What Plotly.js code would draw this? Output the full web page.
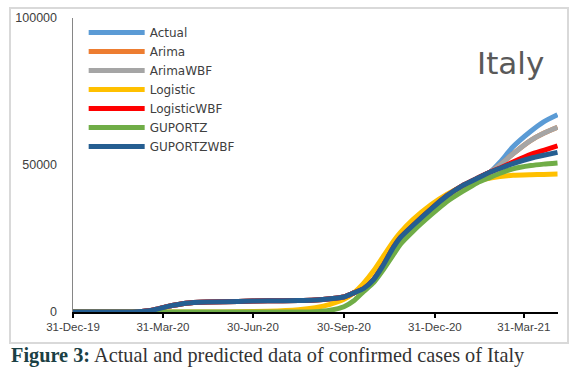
<!DOCTYPE html>
<html><head><meta charset="utf-8">
<script src="https://cdn.plot.ly/plotly-3.0.1.min.js"></script>
<style>html,body{margin:0;padding:0;background:#fff;}#chart{width:584px;height:376px;}</style>
</head><body><div id="chart"></div>
<script>
const dates = ["2019-12-31","2020-01-31","2020-02-20","2020-03-05","2020-03-20","2020-04-05","2020-04-23","2020-05-15","2020-06-15","2020-07-15","2020-08-15","2020-09-01","2020-09-16","2020-09-30","2020-10-10","2020-10-20","2020-10-30","2020-11-08","2020-11-19","2020-11-26","2020-12-09","2020-12-27","2021-01-12","2021-01-28","2021-02-12","2021-02-25","2021-03-07","2021-03-20","2021-04-07","2021-04-20","2021-05-04"];
const actual      = [0,0,0,100,600,1900,3000,3400,3600,3800,3900,4100,4500,5100,6500,8000,11000,15500,22000,25300,29500,35000,39500,43000,45500,47600,51000,56200,61500,64700,67100];
const arima       = [0,0,0,100,600,1900,3000,3400,3600,3800,3900,4100,4500,5100,6500,8000,11000,15500,22000,25300,29500,35000,39500,43000,45500,47600,50000,53800,58400,60800,62800];
const arimaWBF    = [0,0,0,100,600,1900,3000,3400,3600,3800,3900,4100,4500,5100,6500,8000,11000,15500,22000,25300,29500,35000,39500,43000,45500,47600,50000,53800,58400,60800,62800];
const logistic    = [0,0,0,0,0,0,0,0,50,250,800,1500,2600,4300,6500,9800,14000,18500,24000,27000,31500,36500,40000,42800,44600,45600,46100,46500,46700,46800,46900];
const logisticWBF = [0,0,0,100,600,1900,3000,3400,3600,3800,3900,4100,4500,5100,6500,8000,11000,15500,22000,25300,29500,35000,39500,43000,45500,47600,49000,51000,53600,55000,56500];
const guportz     = [0,0,0,0,0,0,0,0,0,0,0,100,600,1800,3800,7000,10000,14000,19500,23000,27500,33000,37500,41000,44000,45800,47200,48700,49800,50300,50700];
const guportzWBF  = [0,0,0,100,600,1900,3000,3400,3600,3800,3900,4100,4500,5100,6500,8000,11000,15500,22000,25300,29500,35000,39500,43000,45500,47600,48900,50500,52300,53300,54300];

const seriesNames = ["Actual","Arima","ArimaWBF","Logistic","LogisticWBF","GUPORTZ","GUPORTZWBF"];
const seriesData = [actual, arima, arimaWBF, logistic, logisticWBF, guportz, guportzWBF];
const seriesColors = ["#5B9BD5","#ED7D31","#A5A5A5","#FFC000","#FF0000","#70AD47","#255E91"];

const tickVals = ["2019-12-31","2020-03-31","2020-06-30","2020-09-30","2020-12-31","2021-03-31"];
const tickText = ["31-Dec-19","31-Mar-20","30-Jun-20","30-Sep-20","31-Dec-20","31-Mar-21"];

const traces = seriesNames.map((n,i)=>({
  x: dates, y: seriesData[i], name: n, type:'scatter', mode:'lines',
  line:{color: seriesColors[i], width:5, shape:'spline', smoothing:0.5},
  hoverinfo:'skip'
}));

const layout = {
  width:584, height:376,
  margin:{l:73, r:26, t:18, b:64},
  paper_bgcolor:'#fff', plot_bgcolor:'#fff',
  showlegend:true,
  legend:{x:0.022, y:1.0, xanchor:'left', yanchor:'top', bgcolor:'rgba(0,0,0,0)',
    font:{family:'DejaVu Sans, sans-serif', size:12, color:'#404040'},
    itemwidth:56, tracegroupgap:0},
  xaxis:{type:'date', range:['2019-12-31','2021-05-04 12:00'], tickvals:tickVals, ticktext:tickText,
    showgrid:false, zeroline:false, showline:true, linecolor:'#000', linewidth:1.5,
    ticks:'outside', ticklen:4, tickcolor:'#000', tickwidth:1.5,
    tickfont:{family:'Liberation Sans, Arial, sans-serif', size:11.5, color:'#404040'}},
  yaxis:{range:[0,100000], tickvals:[0,50000,100000], ticktext:['0','50000','100000'],
    showgrid:false, zeroline:false, showline:true, linecolor:'#868686', linewidth:1.5,
    ticks:'', ticklabelstandoff:12,
    tickfont:{family:'Liberation Sans, Arial, sans-serif', size:12.5, color:'#404040'}},
  shapes:[{type:'rect', xref:'paper', yref:'paper', x0:-0.1299, x1:1.0206, y0:-0.1054, y1:1.034,
    line:{color:'#d9d9d9', width:2}, fillcolor:'rgba(0,0,0,0)', layer:'below'}],
  annotations:[
    {text:'Italy', xref:'paper', yref:'paper', x:0.903, y:0.847, xanchor:'center', yanchor:'middle',
     showarrow:false, font:{family:'DejaVu Sans, sans-serif', size:31, color:'#595959'}},
    {text:'<b style="color:#1b4044">Figure 3:</b> Actual and predicted data of confirmed cases of Italy',
     xref:'paper', yref:'paper', x:-0.132, y:-0.148, xanchor:'left', yanchor:'middle', showarrow:false,
     font:{family:'Liberation Serif, Times New Roman, serif', size:20.3, color:'#333'}}
  ]
};
Plotly.newPlot('chart', traces, layout, {displayModeBar:false, staticPlot:true});
</script></body></html>
